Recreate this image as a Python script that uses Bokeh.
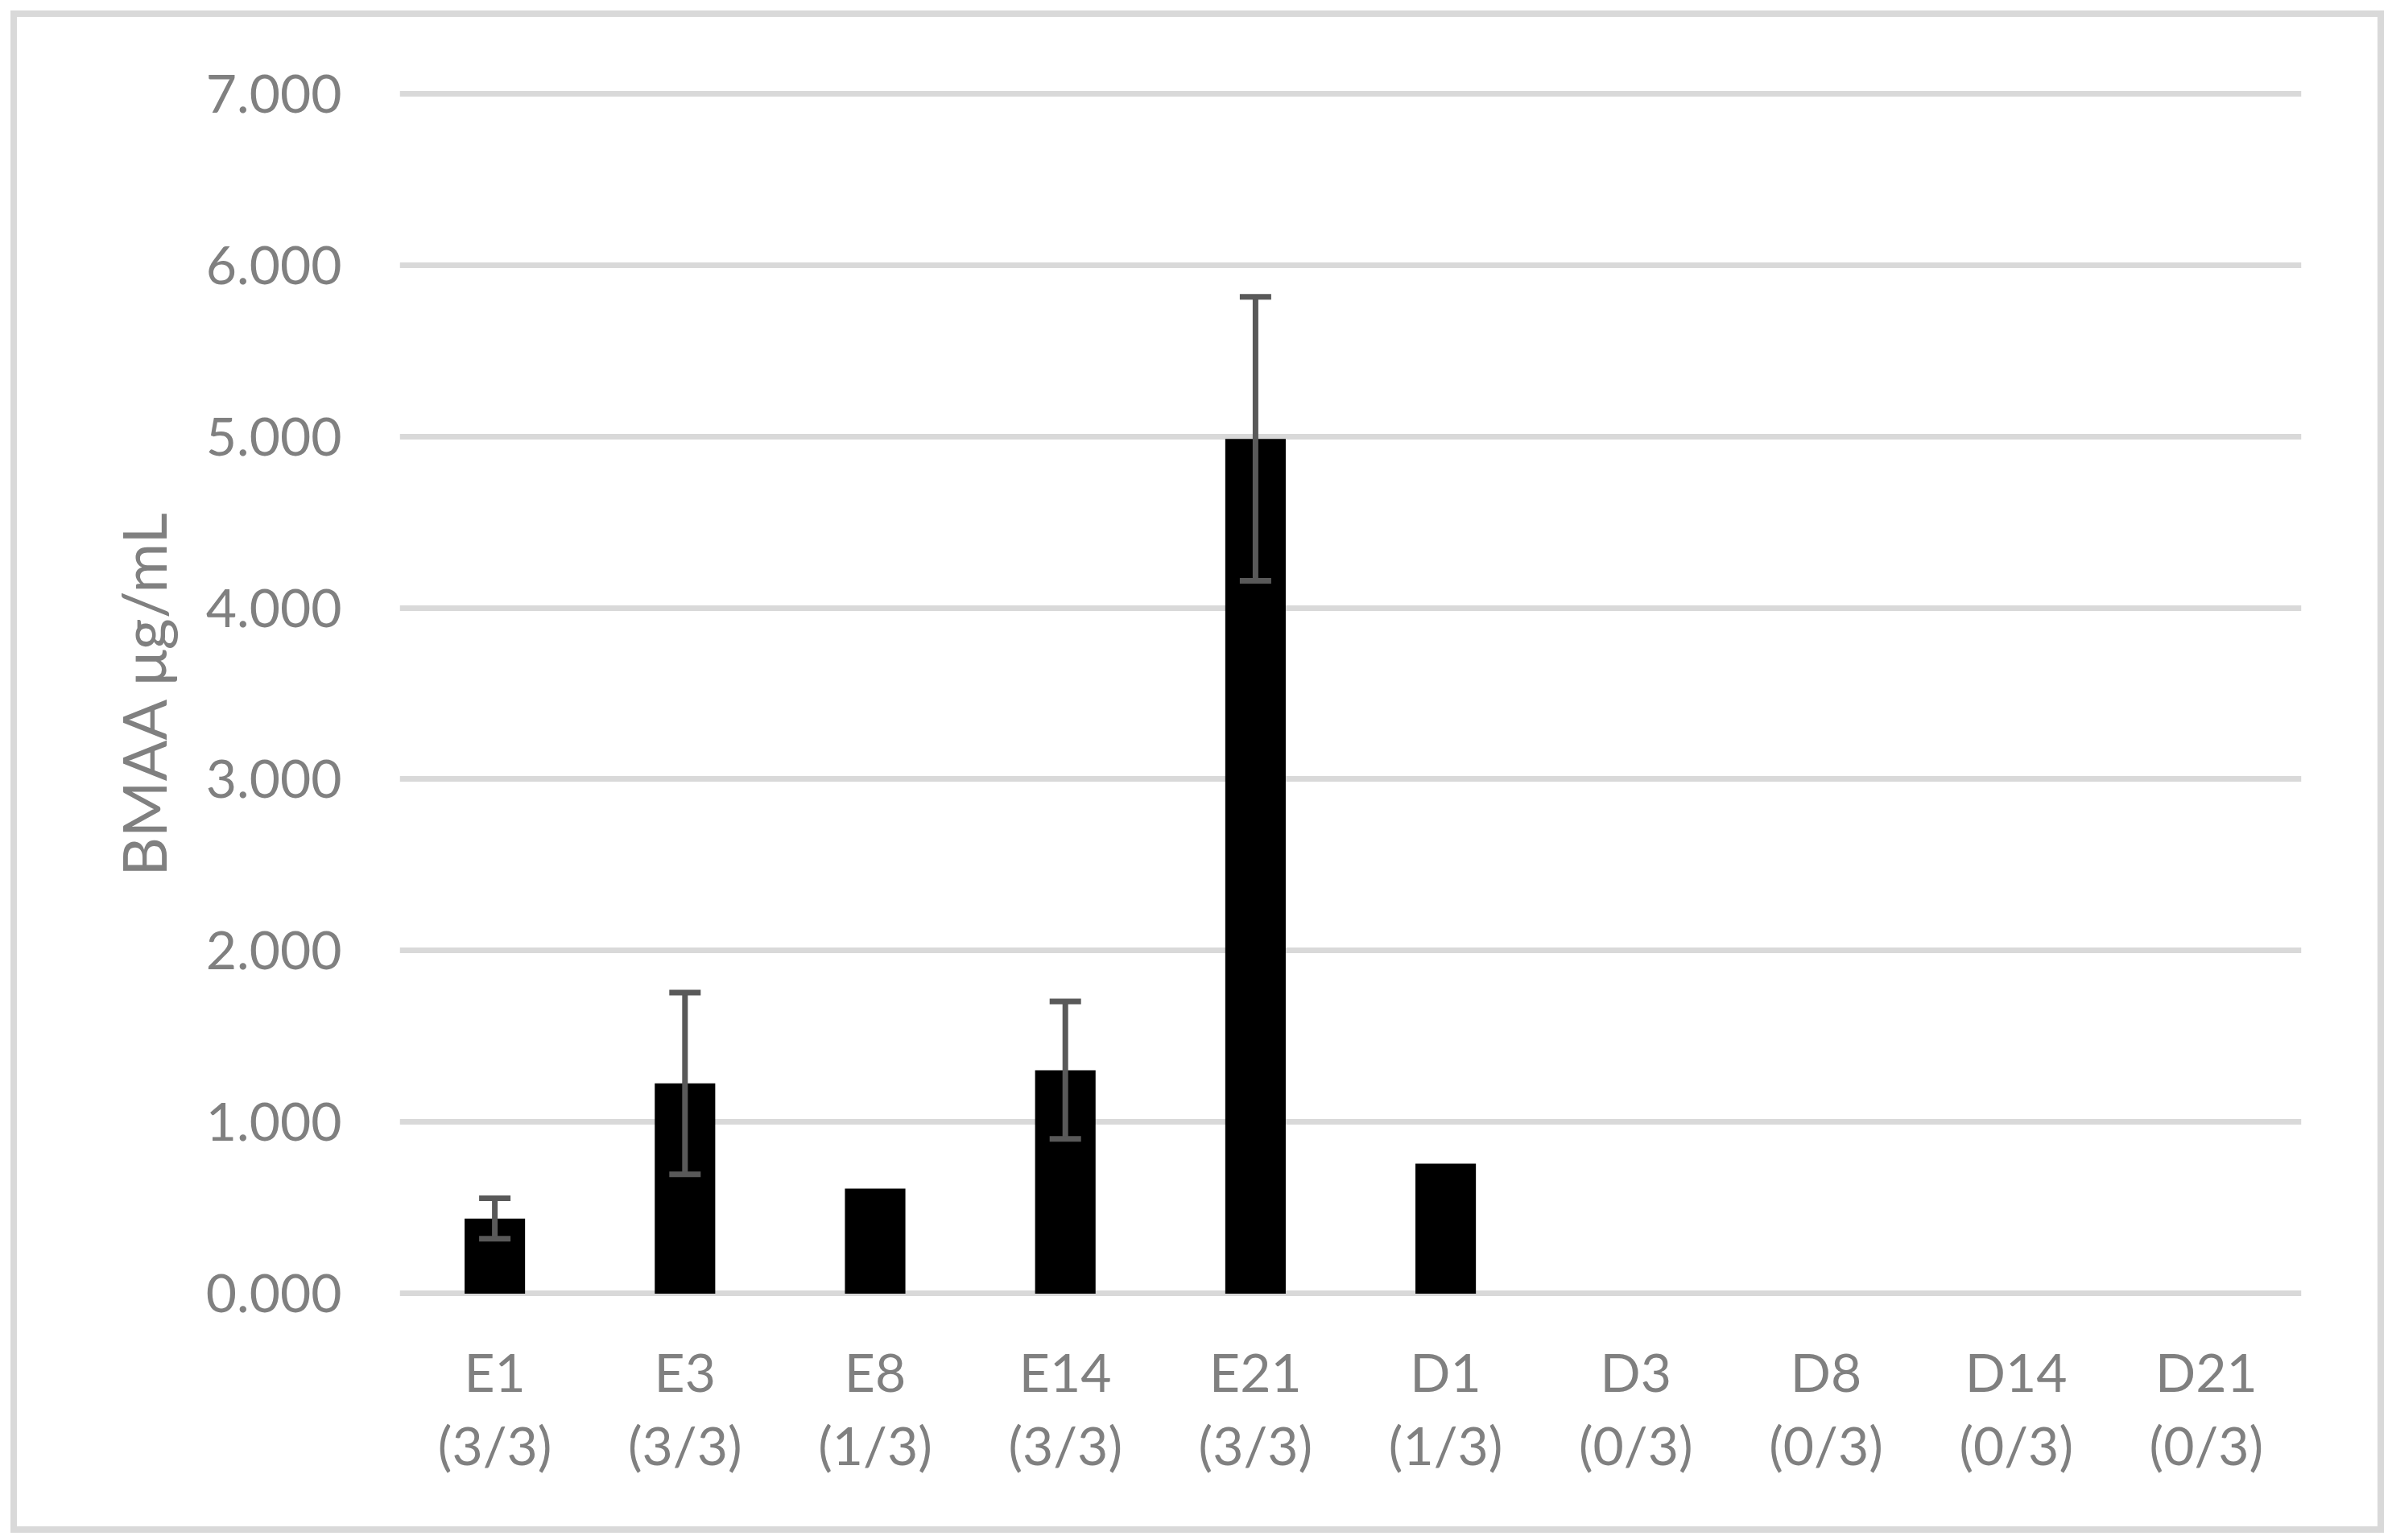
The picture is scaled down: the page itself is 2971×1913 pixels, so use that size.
from bokeh.plotting import figure
from bokeh.models import (ColumnDataSource, FactorRange, Range1d, FixedTicker,
                          NumeralTickFormatter, Whisker, TeeHead)
from bokeh.embed import file_html
from bokeh.resources import INLINE

# ---- data ----
groups = ["E1", "E3", "E8", "E14", "E21", "D1", "D3", "D8", "D14", "D21"]
detected = ["(3/3)", "(3/3)", "(1/3)", "(3/3)", "(3/3)", "(1/3)", "(0/3)", "(0/3)", "(0/3)", "(0/3)"]
bmaa_mean = [0.438, 1.226, 0.613, 1.303, 4.985, 0.758, 0.0, 0.0, 0.0, 0.0]
bmaa_err = [0.118, 0.530, None, 0.401, 0.828, None, None, None, None, None]
y_ticks = [0, 1, 2, 3, 4, 5, 6, 7]

GRID = "#d9d9d9"
TXT = "#808080"
FONT = "Lato"

factors = [f"{g}\n{d}" for g, d in zip(groups, detected)]

src = ColumnDataSource(dict(g=factors, v=bmaa_mean))
err_rows = [(f, m, e) for f, m, e in zip(factors, bmaa_mean, bmaa_err) if e is not None]
err_src = ColumnDataSource(dict(
    g=[r[0] for r in err_rows],
    upper=[r[1] + r[2] for r in err_rows],
    lower=[r[1] - r[2] for r in err_rows],
))

p = figure(x_range=FactorRange(*factors, range_padding=0), y_range=Range1d(-0.04, 7.04),
           width=2948, height=1891, output_backend="svg", toolbar_location=None,
           min_border_left=483, min_border_right=103, min_border_top=94,
           min_border_bottom=289)
p.outline_line_color = None
p.background_fill_color = "white"
p.border_fill_color = "white"
p.border_fill_alpha = 0.0
# outer chart border (Excel chart-area frame)
p.styles = {"margin-left": "13px", "margin-top": "13px",
            "outline": f"8px solid {GRID}", "outline-offset": "-8px"}

p.vbar(x="g", top="v", width=0.318, bottom=0, source=src,
       fill_color="black", line_color=None)

tee = dict(size=39, line_color="#595959", line_width=7)
p.add_layout(Whisker(base="g", upper="upper", lower="lower", source=err_src,
                     line_color="#595959", line_width=7, level="annotation",
                     upper_head=TeeHead(**tee), lower_head=TeeHead(**tee)))

p.xgrid.grid_line_color = None
p.ygrid.grid_line_color = GRID
p.ygrid.grid_line_width = 7

p.yaxis.ticker = FixedTicker(ticks=y_ticks)
p.yaxis.formatter = NumeralTickFormatter(format="0.000")
p.yaxis.axis_label = "BMAA μg/mL"
p.yaxis.axis_label_text_font = FONT
p.yaxis.axis_label_text_font_style = "normal"
p.yaxis.axis_label_text_font_size = "75px"
p.yaxis.axis_label_text_color = TXT
p.yaxis.axis_label_standoff = 30

for ax in (p.xaxis[0], p.yaxis[0]):
    ax.axis_line_color = None
    ax.major_tick_line_color = None
    ax.minor_tick_line_color = None
    ax.major_tick_out = 0
    ax.major_tick_in = 0
    ax.major_label_text_font = FONT
    ax.major_label_text_font_size = "66px"
    ax.major_label_text_color = TXT

p.yaxis.major_label_standoff = 72
p.xaxis.major_label_standoff = 48
p.xaxis.major_label_text_line_height = 1.16

open("out.html", "w").write(file_html(p, INLINE))
